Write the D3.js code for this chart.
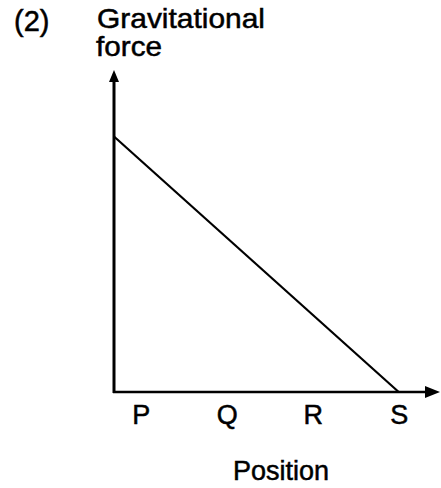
<!DOCTYPE html>
<html>
<head>
<meta charset="utf-8">
<script src="https://cdn.jsdelivr.net/npm/d3@7"></script>
<style>
  html, body { margin: 0; padding: 0; background: #fff; }
  svg { display: block; font-family: "Liberation Sans", Arial, sans-serif; }
  text { fill: #000; stroke: #000; stroke-width: 0.5px; }
</style>
</head>
<body>
<svg id="chart" width="441" height="488"></svg>
<script>
// data
const positionNames = ["P", "Q", "R", "S"];
const positionValues = [1, 2, 3, 4];
// force falls linearly from the y axis to zero at S
const linePositions = [0.69, 4];
const lineForces = [1, 0];

const svg = d3.select("#chart");

// scales
const x = d3.scaleLinear().domain([0.69, 4.48]).range([114, 440]);
const y = d3.scaleLinear().domain([0, 1.26]).range([392, 70]);

// axes lines with arrow heads
svg.append("line")
    .attr("x1", x(0.69)).attr("x2", x(0.69))
    .attr("y1", y(0) + 1).attr("y2", y(1.26) + 10)
    .attr("stroke", "#000").attr("stroke-width", 3);

svg.append("path")
    .attr("d", `M${x(0.69)},${y(1.26)} L${x(0.69) - 5},${y(1.26) + 12} L${x(0.69) + 5},${y(1.26) + 12} Z`)
    .attr("fill", "#000");

svg.append("line")
    .attr("x1", x(0.69) - 1).attr("x2", x(4.48) - 12)
    .attr("y1", y(0)).attr("y2", y(0))
    .attr("stroke", "#000").attr("stroke-width", 2.5);

svg.append("path")
    .attr("d", `M${x(4.48)},${y(0)} L${x(4.48) - 15},${y(0) - 6} L${x(4.48) - 15},${y(0) + 6} Z`)
    .attr("fill", "#000");

// tick labels P Q R S
const xAxis = svg.append("g")
    .attr("transform", `translate(0,${y(0)})`)
    .call(d3.axisBottom(x)
        .tickValues(positionValues)
        .tickFormat((d, i) => positionNames[i])
        .tickSize(0)
        .tickPadding(13));
xAxis.select(".domain").remove();
xAxis.selectAll("text")
    .attr("font-family", "'Liberation Sans', Arial, sans-serif")
    .attr("font-size", 27);

// the force line
const line = d3.line()
    .x(d => x(d[0]))
    .y(d => y(d[1]));

svg.append("path")
    .datum(linePositions.map((p, i) => [p, lineForces[i]]))
    .attr("fill", "none")
    .attr("stroke", "#000")
    .attr("stroke-width", 2.2)
    .attr("d", line);

// titles
svg.append("text")
    .attr("x", 14).attr("y", 31)
    .attr("font-size", 29)
    .text("(2)");

svg.append("text")
    .attr("x", 97).attr("y", 28)
    .attr("font-size", 28)
    .attr("textLength", 168)
    .attr("lengthAdjust", "spacingAndGlyphs")
    .text("Gravitational");

svg.append("text")
    .attr("x", 96).attr("y", 56)
    .attr("font-size", 28)
    .attr("textLength", 66)
    .attr("lengthAdjust", "spacingAndGlyphs")
    .text("force");

svg.append("text")
    .attr("x", 281).attr("y", 480)
    .attr("text-anchor", "middle")
    .attr("font-size", 27)
    .text("Position");
</script>
</body>
</html>
